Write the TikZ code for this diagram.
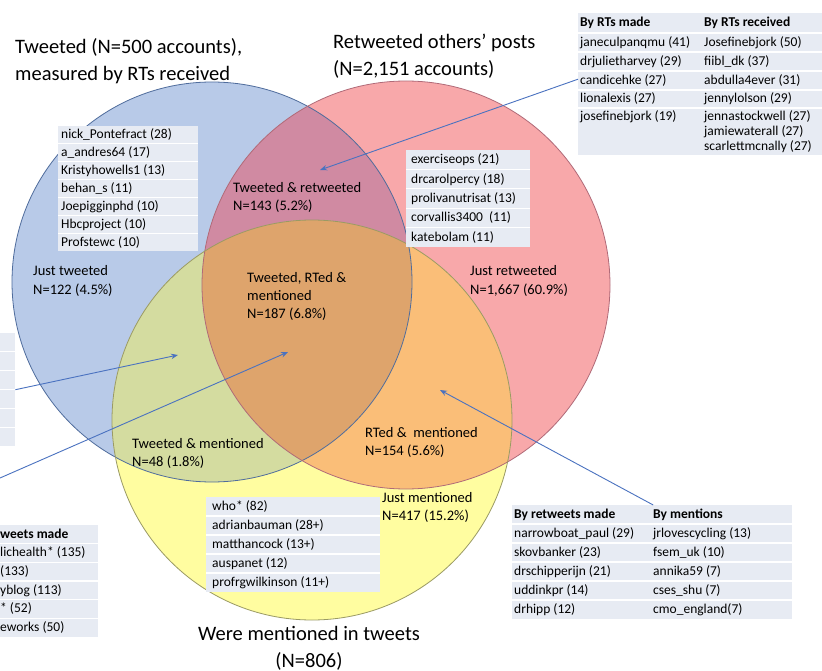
\documentclass[tikz,border=0pt]{standalone}
\usepackage{fontspec}
\setmainfont{Carlito}
\usetikzlibrary{arrows.meta, positioning}
\definecolor{twfill}{HTML}{B8CAE8}
\definecolor{rtfill}{HTML}{F8A8AA}
\definecolor{mnfill}{HTML}{FFFDA0}
\definecolor{twrtfill}{HTML}{D08AA2}
\definecolor{twmnfill}{HTML}{D4DCA0}
\definecolor{rtmnfill}{HTML}{FABE78}
\definecolor{allfill}{HTML}{DEA46C}
\definecolor{twline}{HTML}{4F6C9C}
\definecolor{rtline}{HTML}{B06A78}
\definecolor{mnline}{HTML}{9A9A64}
\definecolor{tabfill}{HTML}{E7EBF3}
\definecolor{arrowblue}{HTML}{4A72C0}

\begin{document}
\begin{tikzpicture}[x=1pt, y=-1pt,
  tabbox/.style={anchor=north west, fill=tabfill, inner sep=0pt, draw=none},
  tabtext/.style={anchor=base west, inner sep=0pt, font=\fontsize{13.5}{16}\selectfont},
  tabhead/.style={tabtext, font=\fontsize{13.5}{16}\selectfont\bfseries},
  rowsep/.style={white, line width=1.2pt},
  regionlbl/.style={anchor=base west, inner sep=0pt, align=left, font=\fontsize{14.5}{18}\selectfont},
  setlbl/.style={anchor=base west, inner sep=0pt, align=left, font=\fontsize{20.5}{27}\selectfont},
  pointer/.style={-{Stealth[length=7pt, width=5.5pt]}, draw=arrowblue, line width=0.9pt},
]
\fill[white] (0,0) rectangle (822,671);
\useasboundingbox (0,0) rectangle (822,671);

% the three sets
\coordinate (tw) at (212,282);
\coordinate (rt) at (406,285);
\coordinate (mn) at (312,420);
\fill[twfill] (tw) circle[radius=200];
\fill[rtfill] (rt) circle[radius=204];
\fill[mnfill] (mn) circle[radius=200];
\begin{scope}
  \clip (tw) circle[radius=200];
  \fill[twrtfill] (rt) circle[radius=204];
  \fill[twmnfill] (mn) circle[radius=200];
  \clip (rt) circle[radius=204];
  \fill[allfill] (mn) circle[radius=200];
\end{scope}
\begin{scope}[even odd rule]
  \clip (tw) circle[radius=200] (-10,-10) rectangle (830,680);
  \clip (rt) circle[radius=204];
  \fill[rtmnfill] (mn) circle[radius=200];
\end{scope}
\draw[twline, line width=0.8pt] (tw) circle[radius=200];
\draw[rtline, line width=0.8pt] (rt) circle[radius=204];
\draw[mnline, line width=0.8pt] (mn) circle[radius=200];

% set titles (base = last line)
\node[setlbl] (twTitle) at (15,81) {Tweeted (N=500 accounts),\\measured by RTs received};
\node[setlbl] (rtTitle) at (333,76) {Retweeted others’ posts\\(N=2,151 accounts)};
\node[setlbl, anchor=base, align=center] (mnTitle) at (309,667) {Were mentioned in tweets\\(N=806)};

% region counts
\node[regionlbl] (twrtLbl) at (233,211) {Tweeted \& retweeted\\N=143 (5.2\%)};
\node[regionlbl] (twLbl) at (33,294) {Just tweeted\\N=122 (4.5\%)};
\node[regionlbl] (allLbl) at (247,318) {Tweeted, RTed \&\\mentioned\\N=187 (6.8\%)};
\node[regionlbl] (rtLbl) at (470,294) {Just retweeted\\N=1,667 (60.9\%)};
\node[regionlbl] (twmnLbl) at (132,466) {Tweeted \& mentioned\\N=48 (1.8\%)};
\node[regionlbl] (rtmnLbl) at (365,455) {RTed \&\ \ mentioned\\N=154 (5.6\%)};
\node[regionlbl] (mnLbl) at (382,520) {Just mentioned\\N=417 (15.2\%)};

% top accounts tables
\node[tabbox, minimum width=244pt, minimum height=142pt] (rtTab) at (578,13) {};
\foreach \y in {33,52,71,90,108} \draw[rowsep] (578,\y) -- (822,\y);
\node[tabhead] (rtMadeHd) at (580,27) {By RTs made};
\node[tabhead] (rtRecHd) at (704,27) {By RTs received};
\foreach \t/\y [count=\i] in {janeculpanqmu (41)/43, drjulietharvey (29)/62, candicehke (27)/81,
    lionalexis (27)/99, josefinebjork (19)/117}
  \node[tabtext] (rtMade\i) at (580,\y+4) {\t};
\foreach \t/\y [count=\i] in {Josefinebjork (50)/43, fiibl\_dk (37)/62, abdulla4ever (31)/81,
    jennylolson (29)/99, jennastockwell (27)/117, jamiewaterall (27)/132, scarlettmcnally (27)/147}
  \node[tabtext] (rtRec\i) at (704,\y+4) {\t};

\node[tabbox, minimum width=140pt, minimum height=125pt] (twTab) at (58,126) {};
\foreach \i in {1,...,6} \draw[rowsep] (58,{126+17.9*\i}) -- (198,{126+17.9*\i});
\foreach \t [count=\i] in {nick\_Pontefract (28), a\_andres64 (17), Kristyhowells1 (13), behan\_s (11),
    Joepigginphd (10), Hbcproject (10), Profstewc (10)}
  \node[tabtext] (tw\i) at (61,{121.05+17.9*\i}) {\t};

\node[tabbox, minimum width=124pt, minimum height=97pt] (rtOnlyTab) at (406,150) {};
\foreach \i in {1,...,4} \draw[rowsep] (406,{150+19.4*\i}) -- (530,{150+19.4*\i});
\foreach \t [count=\i] in {exerciseops (21), drcarolpercy (18), prolivanutrisat (13),
    corvallis3400\ \ (11), katebolam (11)}
  \node[tabtext] (rtOnly\i) at (411,{144.3+19.4*\i}) {\t};

\node[tabbox, minimum width=15pt, minimum height=113pt] (stubTab) at (0,333) {};
\foreach \i in {1,...,5} \draw[rowsep] (0,{333+18.83*\i}) -- (15,{333+18.83*\i});

\node[tabbox, minimum width=98pt, minimum height=112pt] (rtMadeTab) at (0,525) {};
\foreach \i in {1,...,5} \draw[rowsep] (0,{525+18.67*\i}) -- (98,{525+18.67*\i});
\node[tabhead] (rtMadeTabHd) at (0,538) {weets made};
\foreach \t [count=\i] in {lichealth* (135), (133), yblog (113), * (52), eworks (50)}
  \node[tabtext] (rtMadeRow\i) at (0,{538+18.67*\i}) {\t};

\node[tabbox, minimum width=174pt, minimum height=95pt] (mnTab) at (206,497) {};
\foreach \i in {1,...,4} \draw[rowsep] (206,{497+19*\i}) -- (380,{497+19*\i});
\foreach \t [count=\i] in {who* (82), adrianbauman (28+), matthancock (13+), auspanet (12),
    profrgwilkinson (11+)}
  \node[tabtext] (mn\i) at (212,{491.5+19*\i}) {\t};

\node[tabbox, minimum width=280pt, minimum height=114pt] (rtmnTab) at (512,505) {};
\foreach \i in {1,...,5} \draw[rowsep] (512,{505+19*\i}) -- (792,{505+19*\i});
\node[tabhead] (rtmnMadeHd) at (514,518.5) {By retweets made};
\node[tabhead] (rtmnMenHd) at (653,518.5) {By mentions};
\foreach \t [count=\i] in {narrowboat\_paul (29), skovbanker (23), drschipperijn (21), uddinkpr (14), drhipp (12)}
  \node[tabtext] (rtmnMade\i) at (514,{518.5+19*\i}) {\t};
\foreach \t [count=\i] in {jrlovescycling (13), fsem\_uk (10), annika59 (7), cses\_shu (7), cmo\_england(7)}
  \node[tabtext] (rtmnMen\i) at (653,{518.5+19*\i}) {\t};

% pointers from tables into regions
\coordinate (twrtTip) at (320,170);
\coordinate (twmnTip) at (178,355);
\coordinate (allTip) at (288,352);
\coordinate (rtmnTip) at (440,390);
\coordinate (offTab) at (0,478);
\draw[pointer] ([yshift=5pt]rtTab.west) -- (twrtTip);
\draw[pointer] (stubTab.east) -- (twmnTip);
\draw[pointer] (offTab) -- (allTip);
\draw[pointer] ([xshift=1pt]rtmnTab.north) -- (rtmnTip);
\end{tikzpicture}
\end{document}
